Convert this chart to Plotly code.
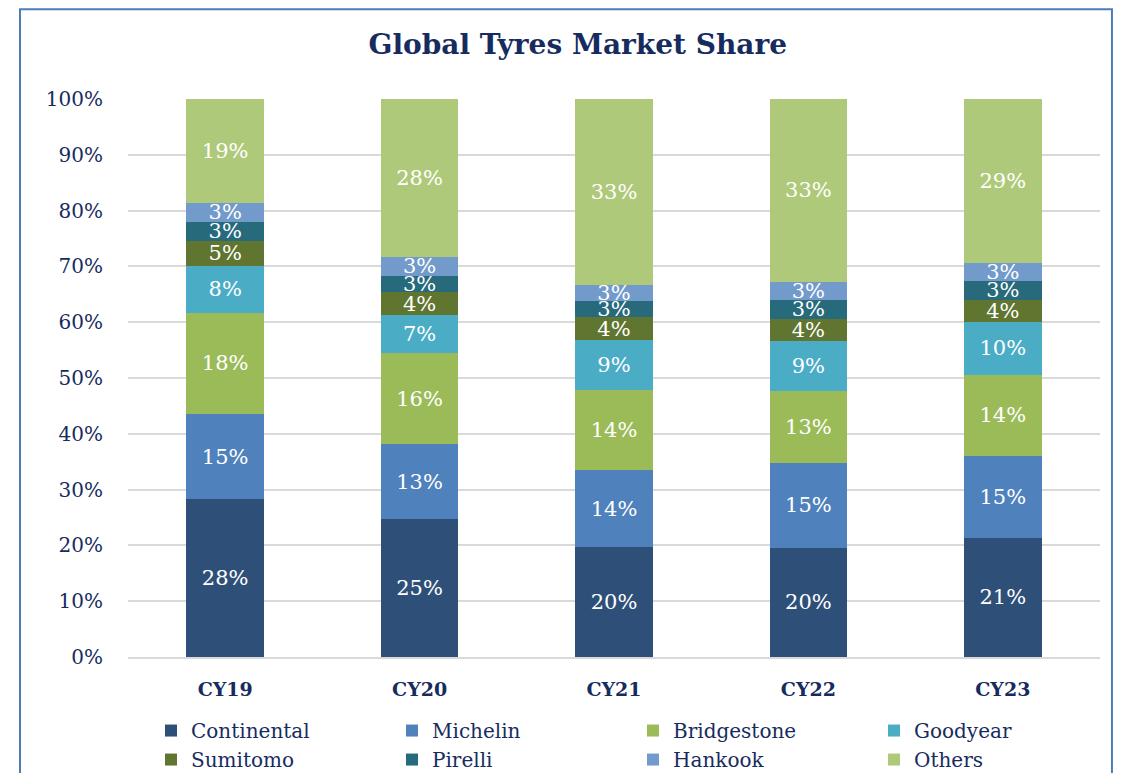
import plotly.graph_objects as go

years = ["CY19", "CY20", "CY21", "CY22", "CY23"]
continental = [28.26, 24.78, 19.70, 19.60, 21.38]
michelin = [15.29, 13.34, 13.80, 15.20, 14.70]
bridgestone = [18.15, 16.31, 14.40, 12.95, 14.46]
goodyear = [8.36, 6.86, 8.96, 8.96, 9.55]
sumitomo = [4.55, 4.07, 4.00, 3.84, 3.89]
pirelli = [3.40, 2.90, 2.87, 3.46, 3.41]
hankook = [3.41, 3.45, 3.00, 3.28, 3.17]
others = [18.58, 28.26, 33.27, 32.71, 29.44]

series = [
    ("Continental", continental, "#2E4F78"),
    ("Michelin", michelin, "#4F81BD"),
    ("Bridgestone", bridgestone, "#9BBB59"),
    ("Goodyear", goodyear, "#4BACC6"),
    ("Sumitomo", sumitomo, "#5F7530"),
    ("Pirelli", pirelli, "#276A7C"),
    ("Hankook", hankook, "#729ACA"),
    ("Others", others, "#AFC97A"),
]

FONT = "DejaVu Serif"
NAVY = "#172C5E"

fig = go.Figure()
for name, vals, col in series:
    fig.add_trace(go.Bar(
        name=name, x=years, y=vals,
        marker=dict(color=col, line=dict(width=0)),
        texttemplate="%{y:.0f}%", textposition="inside",
        insidetextanchor="middle", textangle=0,
        textfont=dict(family=FONT, size=21, color="white"),
        hoverinfo="skip",
    ))

fig.update_layout(
    barmode="stack", bargap=0.6,
    width=1135, height=773,
    margin=dict(l=120, r=43, t=91, b=124),
    paper_bgcolor="white", plot_bgcolor="white",
    uniformtext=dict(minsize=21, mode="show"),
    title=dict(text="<b>Global Tyres Market Share</b>", x=0.502, xanchor="center",
               xref="container", y=0.953, yanchor="middle", yref="container",
               font=dict(family=FONT, size=28, color=NAVY)),
    font=dict(family=FONT, color=NAVY),
    legend=dict(orientation="h", xref="container", x=0.126, xanchor="left",
                yref="container", y=0.0905, yanchor="top",
                traceorder="normal", entrywidth=196, entrywidthmode="pixels",
                font=dict(family=FONT, size=20, color=NAVY), itemwidth=30,
                tracegroupgap=0, bgcolor="rgba(0,0,0,0)"),
    showlegend=True,
)
fig.update_yaxes(range=[0, 100], dtick=10, ticksuffix="%", showgrid=True,
                 gridcolor="#D9D9D9", gridwidth=2, zeroline=False, automargin=False,
                 tickfont=dict(family=FONT, size=20, color=NAVY),
                 ticklabelstandoff=24, fixedrange=True)
fig.update_xaxes(showgrid=False, showline=True, linecolor="#D9D9D9", linewidth=2,
                 automargin=False,
                 tickfont=dict(family=FONT, size=19, color=NAVY, weight="bold"),
                 ticklabelstandoff=14)
fig.add_shape(type="rect", xref="paper", yref="paper",
              x0=-0.1111, x1=1.0123, y0=-0.4, y1=1.161,
              line=dict(color="#4A7EBB", width=2), fillcolor="rgba(0,0,0,0)", layer="below")

fig.write_html("out.html")
